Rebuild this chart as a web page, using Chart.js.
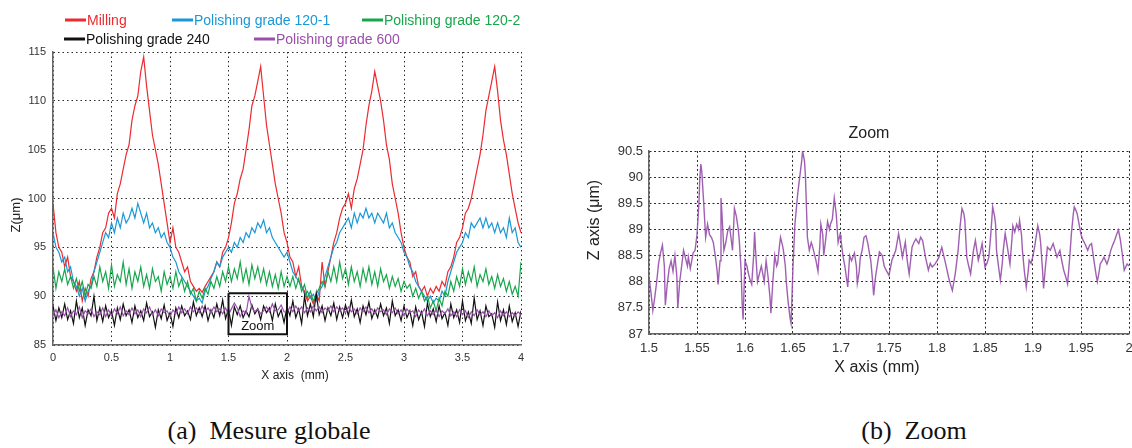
<!DOCTYPE html>
<html lang="fr">
<head>
<meta charset="UTF-8">
<title>Mesure globale / Zoom</title>
<script src="https://cdn.jsdelivr.net/npm/chart.js"></script>
<style>
  body { margin: 0; width: 1132px; height: 448px; overflow: hidden; background: #fff; position: relative; }
  canvas { position: absolute; }
  #chartA { left: 0; top: 0; }
  #chartB { left: 560px; top: 100px; }
  .cap { position: absolute; font-family: "Liberation Serif", "Times New Roman", serif; font-size: 26px;
         line-height: 30px; white-space: pre; transform: translateX(-50%); color: #111; }
</style>
</head>
<body>
<canvas id="chartA" width="540" height="400"></canvas>
<canvas id="chartB" width="572" height="300"></canvas>
<div class="cap" style="left:269px; top:416px;">(a)  Mesure globale</div>
<div class="cap" style="left:914px; top:416px;">(b)  Zoom</div>
<script>
// ---- data ----
// left panel: profiles sampled every 0.025 mm from 0 to 4 mm
const xStart = 0, xStep = 0.025;
const seriesNames = ['Milling', 'Polishing grade 120-1', 'Polishing grade 120-2', 'Polishing grade 240', 'Polishing grade 600'];

const milling = [
  99.5,96.5,95.0,94.5,93.0,94.0,92.0,91.5,90.5,91.5,
  89.5,90.8,90.0,91.8,92.5,94.0,95.0,96.5,97.0,98.5,
  99.0,98.0,100.5,101.5,103.0,104.5,105.5,108.0,109.5,110.5,
  113.0,114.5,111.5,109.0,106.5,105.0,103.5,101.5,99.5,97.5,
  95.5,97.0,95.0,94.5,93.5,92.5,93.0,91.5,91.0,90.5,
  90.8,90.4,91.0,91.5,92.0,92.5,93.5,93.0,94.5,95.0,
  96.0,97.5,99.5,100.5,102.0,103.0,105.0,107.0,109.5,110.5,
  112.0,113.5,110.5,107.5,105.5,103.5,101.5,100.0,98.5,96.5,
  95.5,94.0,93.5,92.0,93.0,91.0,90.5,89.5,90.0,89.2,
  90.2,89.5,93.5,91.0,92.5,94.0,95.5,96.5,98.0,99.0,
  99.5,100.5,99.0,101.0,102.0,103.5,105.0,107.5,109.5,111.0,
  113.0,111.5,110.0,108.0,105.5,104.0,101.5,100.0,98.5,96.5,
  95.0,94.0,93.5,92.0,92.5,91.0,90.5,91.0,90.0,90.8,
  90.3,91.0,90.5,91.5,91.0,92.5,93.0,94.0,95.5,96.0,
  97.0,98.5,99.0,100.0,101.5,103.0,104.5,106.5,109.0,110.5,
  112.0,113.5,111.0,108.0,106.0,104.5,102.5,100.5,99.0,97.5,
  96.5
];
const grade120a = [
  96.5,95.0,94.5,93.5,94.0,92.5,93.0,91.5,91.0,90.0,
  90.8,89.5,90.5,91.0,92.5,93.5,94.5,95.5,96.5,96.0,
  97.5,96.5,98.0,97.0,98.5,97.5,98.0,99.0,98.0,99.5,
  98.5,97.5,98.5,97.0,97.5,96.5,97.0,96.0,96.5,95.5,
  95.0,94.0,93.5,92.5,92.0,91.5,91.0,90.5,90.0,89.5,
  89.8,89.3,90.5,91.0,91.8,92.5,93.5,93.0,94.0,94.5,
  95.0,94.5,95.5,95.0,96.0,95.5,96.5,96.0,97.0,96.5,
  97.5,97.0,97.8,96.5,97.0,96.0,95.5,95.0,94.5,94.0,
  94.5,93.5,92.5,92.0,91.5,91.0,90.2,90.5,89.8,90.2,
  89.5,90.5,91.0,92.0,93.0,94.0,95.0,95.5,96.5,97.0,
  97.5,98.0,97.0,98.5,97.5,98.5,98.0,99.0,98.0,98.5,
  97.5,98.5,98.0,97.5,98.5,97.0,97.5,96.5,96.0,95.5,
  94.5,94.0,93.0,92.5,91.5,91.0,90.5,90.0,89.5,90.0,
  89.3,89.8,89.5,90.5,90.0,91.5,92.5,93.5,94.5,95.0,
  95.5,96.5,96.0,97.5,97.0,97.5,98.0,97.0,98.0,97.0,
  97.5,96.5,97.5,96.5,97.0,96.0,98.0,96.5,97.0,95.5,
  95.0
];
const grade120b = [
  93.0,90.8,92.5,91.5,92.8,91.2,92.0,90.8,91.8,90.5,
  91.5,90.0,91.2,90.8,92.0,91.0,93.0,91.5,92.5,90.8,
  93.2,91.0,92.2,91.5,93.5,91.2,92.8,90.8,92.5,91.5,
  93.0,91.0,92.2,90.8,92.8,91.5,92.0,90.5,92.5,91.2,
  92.0,90.8,92.5,91.0,91.8,90.5,91.5,90.2,90.8,89.5,
  90.5,89.8,90.8,90.2,91.5,90.8,92.0,91.0,92.5,91.5,
  93.0,91.5,92.8,91.8,93.5,91.5,92.8,91.2,93.2,91.8,
  93.0,91.5,92.8,91.2,92.5,91.0,92.2,90.8,92.5,91.0,
  92.0,91.0,92.0,90.8,91.8,90.5,91.2,89.8,90.5,89.5,
  90.2,90.8,91.5,91.0,92.5,91.5,93.0,91.5,93.5,91.8,
  92.8,91.2,93.0,91.5,92.5,91.0,92.8,91.5,93.0,91.2,
  92.5,91.0,92.8,91.5,92.2,90.8,92.0,91.0,91.8,90.5,
  91.5,90.8,91.2,90.0,90.8,89.8,90.5,89.5,90.0,88.8,
  89.5,88.5,89.8,89.0,90.5,90.0,91.5,90.5,92.0,91.0,
  92.8,91.2,92.5,91.5,93.0,91.0,92.2,91.5,92.8,91.2,
  92.0,90.8,92.2,91.0,91.8,90.5,91.5,90.2,91.0,90.0,
  93.5
];
const grade240 = [
  89.0,87.5,88.8,87.8,89.2,87.6,88.5,87.2,89.5,87.8,
  88.8,87.0,88.6,88.0,90.0,87.5,88.8,87.4,89.0,87.8,
  88.5,87.0,88.8,87.6,89.2,88.0,88.6,87.3,89.0,87.8,
  88.5,87.5,89.3,87.9,88.4,86.8,88.6,87.7,89.1,87.5,
  88.3,86.9,88.8,87.8,89.0,88.0,88.5,87.6,89.4,88.0,
  88.8,87.9,89.0,87.5,88.6,87.8,89.2,88.0,89.6,87.7,
  88.7,87.0,88.9,88.1,89.0,87.8,88.5,87.9,89.1,88.2,
  88.7,87.6,89.0,88.3,88.8,87.5,89.2,87.9,88.6,87.3,
  88.9,88.0,89.5,87.8,88.7,87.2,90.0,88.0,89.2,87.9,
  90.3,88.1,89.0,87.5,88.8,88.0,89.3,87.6,88.9,87.8,
  89.1,88.0,89.6,87.9,88.7,87.3,89.0,88.1,89.4,87.7,
  88.6,87.8,89.2,88.0,88.8,87.2,89.5,88.0,88.6,87.5,
  89.0,87.8,88.5,87.0,88.9,87.6,88.4,86.9,89.3,87.9,
  88.7,87.4,89.0,87.7,88.3,87.0,89.2,87.8,88.6,87.3,
  89.5,87.5,88.4,87.2,89.8,87.6,88.5,87.0,89.0,87.9,
  88.2,86.8,89.4,87.5,88.6,87.1,89.0,87.4,88.3,86.9,
  88.5
];
const grade600 = [
  88.0,88.6,87.8,88.4,88.0,88.8,87.9,88.5,88.1,88.9,
  87.8,88.5,88.2,88.7,87.9,88.4,88.1,88.8,87.9,88.6,
  88.0,88.7,88.2,88.9,88.0,88.5,88.1,88.8,88.2,88.6,
  87.9,88.7,88.3,88.9,88.1,88.6,88.0,88.7,88.3,88.5,
  87.9,88.6,88.2,88.9,88.3,88.7,88.2,88.9,88.4,88.8,
  88.3,89.0,88.4,88.8,88.3,88.9,88.4,88.7,88.2,88.8,
  88.1,88.7,89.3,88.8,87.9,88.5,88.2,90.0,88.8,88.4,
  88.7,88.2,88.5,88.9,88.4,89.2,88.5,88.6,89.1,88.4,
  88.3,88.9,88.4,89.0,88.5,88.9,88.3,88.8,88.4,89.0,
  88.5,88.9,88.3,88.8,88.5,89.0,88.4,88.9,88.5,88.8,
  88.3,88.9,88.4,88.7,88.2,88.8,88.4,88.9,88.3,88.7,
  88.2,88.8,88.4,88.6,88.1,88.7,88.3,88.8,88.2,88.6,
  88.0,88.7,88.3,88.5,87.9,88.6,88.2,88.7,88.0,88.5,
  88.1,88.6,87.9,88.5,88.2,88.7,88.0,88.4,87.9,88.6,
  88.1,88.5,87.8,88.4,88.0,88.6,88.1,88.4,87.9,88.5,
  88.0,88.3,87.8,88.5,88.0,88.4,87.9,88.3,88.0,88.4,
  88.1
];
// the zoomed window marked on the left panel
const zoomBoxX = [1.5, 2.0, 2.0, 1.5, 1.5];
const zoomBoxZ = [90.3, 90.3, 86.1, 86.1, 90.3];

// right panel: grade 600 profile between 1.5 and 2 mm
const zoomX = [
  1.500,1.502,1.504,1.506,1.508,1.510,1.512,1.514,1.516,1.517,
  1.519,1.521,1.523,1.525,1.527,1.529,1.530,1.532,1.534,1.536,
  1.538,1.540,1.541,1.543,1.544,1.546,1.548,1.550,1.552,1.553,
  1.554,1.555,1.557,1.559,1.561,1.563,1.565,1.567,1.569,1.571,
  1.572,1.574,1.575,1.576,1.578,1.580,1.582,1.584,1.586,1.587,
  1.589,1.591,1.593,1.594,1.596,1.597,1.598,1.600,1.602,1.603,
  1.605,1.607,1.609,1.610,1.611,1.613,1.615,1.617,1.619,1.620,
  1.622,1.624,1.626,1.627,1.629,1.631,1.633,1.634,1.636,1.637,
  1.639,1.640,1.642,1.643,1.645,1.647,1.648,1.650,1.652,1.654,
  1.655,1.657,1.659,1.660,1.662,1.663,1.665,1.667,1.669,1.670,
  1.672,1.674,1.676,1.678,1.679,1.681,1.682,1.684,1.686,1.688,
  1.689,1.691,1.693,1.695,1.697,1.699,1.700,1.702,1.704,1.707,
  1.709,1.711,1.714,1.716,1.717,1.719,1.720,1.722,1.724,1.726,
  1.728,1.730,1.731,1.733,1.734,1.736,1.738,1.740,1.743,1.745,
  1.747,1.750,1.753,1.755,1.757,1.760,1.762,1.764,1.767,1.769,
  1.771,1.774,1.776,1.778,1.781,1.783,1.785,1.788,1.791,1.793,
  1.795,1.798,1.800,1.802,1.805,1.807,1.809,1.812,1.814,1.816,
  1.819,1.822,1.824,1.826,1.828,1.829,1.831,1.833,1.835,1.838,
  1.840,1.843,1.845,1.847,1.850,1.852,1.854,1.856,1.858,1.860,
  1.861,1.862,1.864,1.866,1.868,1.869,1.871,1.873,1.876,1.878,
  1.879,1.881,1.883,1.885,1.886,1.888,1.889,1.891,1.893,1.895,
  1.896,1.898,1.900,1.902,1.905,1.907,1.908,1.910,1.911,1.913,
  1.915,1.918,1.921,1.923,1.925,1.928,1.930,1.932,1.934,1.936,
  1.938,1.940,1.942,1.943,1.945,1.946,1.948,1.950,1.952,1.954,
  1.957,1.959,1.961,1.964,1.966,1.967,1.969,1.970,1.972,1.974,
  1.977,1.979,1.981,1.983,1.985,1.987,1.989,1.991,1.993,1.995,
  1.998,2.000
];
const zoomZ = [
  88.10,87.80,87.45,87.70,88.00,88.35,88.55,88.70,88.30,87.55,
  87.95,88.25,88.40,88.20,88.50,88.10,87.50,88.00,88.30,88.60,
  88.45,88.30,88.47,88.25,88.35,88.55,88.60,88.90,89.50,90.00,
  90.25,90.10,89.50,88.85,89.10,88.90,88.85,88.75,88.50,88.20,
  87.95,88.40,89.60,89.30,88.60,88.75,88.97,89.05,88.75,88.60,
  89.40,89.25,89.00,88.80,88.20,87.60,87.28,88.40,88.30,88.20,
  88.05,87.95,88.50,88.95,88.60,88.00,88.15,88.30,88.10,88.00,
  88.40,88.10,87.70,87.40,88.00,88.50,88.30,88.35,88.70,88.85,
  88.70,88.60,88.30,88.00,87.60,87.30,87.20,88.30,89.10,89.50,
  89.70,90.00,90.30,90.50,90.30,90.00,88.85,88.60,88.75,88.70,
  88.55,88.40,88.20,88.70,89.10,88.90,88.50,88.80,89.15,89.00,
  89.10,89.20,89.60,89.30,88.75,88.90,88.80,88.50,88.30,87.90,
  88.50,88.40,88.55,88.30,87.97,88.20,88.45,88.60,88.85,88.88,
  88.73,88.50,88.41,88.00,87.74,88.10,88.34,88.57,88.50,88.30,
  88.22,88.12,88.41,88.50,88.60,88.92,88.70,88.47,88.76,88.40,
  88.15,88.66,88.75,88.82,88.73,88.85,88.79,88.47,88.22,88.35,
  88.28,88.34,88.40,88.47,88.66,88.50,88.34,88.09,87.95,87.83,
  88.15,88.60,89.05,89.40,89.30,89.17,88.47,88.30,88.15,88.60,
  88.79,88.41,88.55,88.73,88.28,88.35,88.47,88.90,89.43,89.25,
  89.10,88.60,88.30,88.03,88.35,88.60,88.92,88.70,88.34,88.80,
  89.07,88.95,89.10,89.00,89.17,88.90,88.60,88.20,87.90,88.20,
  88.41,88.35,88.50,88.70,89.07,88.90,88.73,88.20,87.87,88.30,
  88.66,88.60,88.73,88.60,88.47,88.60,88.40,88.22,88.10,87.96,
  88.40,88.92,89.30,89.43,89.35,89.30,89.10,88.90,88.80,88.73,
  88.60,88.70,88.73,88.34,88.10,88.00,88.20,88.34,88.40,88.47,
  88.34,88.45,88.60,88.70,88.79,88.90,88.99,88.80,88.53,88.22,
  88.34,88.30
];

// ---- helpers ----
const SANS = '"Liberation Sans", Arial, Helvetica, sans-serif';
Chart.defaults.font.family = SANS;
Chart.defaults.color = '#333';

function profile(values) {
  return values.map((v, i) => ({ x: +(xStart + i * xStep).toFixed(3), y: v }));
}
function pairs(xs, ys) {
  const n = Math.min(xs.length, ys.length);
  const out = [];
  for (let i = 0; i < n; i++) out.push({ x: xs[i], y: ys[i] });
  return out;
}
function fmt(v) { return String(+(+v).toFixed(2)); }

// free text drawn on a chart: pixel position (x,y) or data position (vx,vy)
function textLayer(items) {
  return {
    id: 'textLayer',
    afterDraw(chart) {
      const ctx = chart.ctx;
      items.forEach(t => {
        const px = t.vx !== undefined ? chart.scales.x.getPixelForValue(t.vx) : t.x;
        const py = t.vy !== undefined ? chart.scales.y.getPixelForValue(t.vy) : t.y;
        ctx.save();
        ctx.font = t.font;
        ctx.fillStyle = t.color || '#222';
        ctx.textAlign = 'center';
        ctx.textBaseline = 'middle';
        ctx.translate(px, py);
        if (t.rotate) ctx.rotate(t.rotate);
        ctx.fillText(t.text, 0, 0);
        ctx.restore();
      });
    }
  };
}

// two-row key above the left panel
const keySpots = [[65, 20], [172, 20], [362, 20], [64, 39], [254, 39]];
const keyPlugin = {
  id: 'keyRows',
  afterDraw(chart) {
    const ctx = chart.ctx;
    keySpots.forEach((p, i) => {
      const ds = chart.data.datasets[i];
      ctx.save();
      ctx.strokeStyle = ds.borderColor;
      ctx.lineWidth = 3;
      ctx.beginPath();
      ctx.moveTo(p[0], p[1]);
      ctx.lineTo(p[0] + 21, p[1]);
      ctx.stroke();
      ctx.fillStyle = ds.borderColor;
      ctx.font = '14px ' + SANS;
      ctx.textBaseline = 'middle';
      ctx.fillText(ds.label, p[0] + 22, p[1] + 1);
      ctx.restore();
    });
  }
};

const colors = ['#ec2a30', '#1a98d5', '#17a64c', '#111111', '#9a4fab'];
const layers = [5, 4, 3, 2, 1];
const gridStyle = { color: '#2a2a2a', lineWidth: 1, drawTicks: false };
const borderStyle = { color: '#666', width: 1.5, dash: [1.5, 3] };

// ---- left panel ----
const leftSets = [milling, grade120a, grade120b, grade240, grade600].map((vals, i) => ({
  label: seriesNames[i],
  data: profile(vals),
  borderColor: colors[i],
  borderWidth: 1.2,
  pointRadius: 0,
  tension: 0,
  order: layers[i]
}));
leftSets.push({
  label: 'zoom window',
  data: pairs(zoomBoxX, zoomBoxZ),
  borderColor: '#111',
  borderWidth: 2,
  pointRadius: 0,
  tension: 0,
  order: 0
});

new Chart(document.getElementById('chartA'), {
  type: 'line',
  data: { datasets: leftSets },
  options: {
    responsive: false,
    animation: false,
    events: [],
    layout: { padding: { left: 0, right: 19, top: 52, bottom: 0 } },
    plugins: { legend: { display: false }, tooltip: { enabled: false } },
    scales: {
      x: {
        type: 'linear', min: 0, max: 4,
        ticks: { stepSize: 0.5, padding: 6, font: { size: 11 }, color: '#333', maxRotation: 0, autoSkip: false, callback: fmt },
        grid: gridStyle,
        border: borderStyle,
        afterFit: s => { s.height = 55; s.paddingLeft = 0; s.paddingRight = 0; }
      },
      y: {
        type: 'linear', min: 85, max: 115,
        ticks: { stepSize: 5, padding: 7, font: { size: 11 }, color: '#333', callback: fmt },
        grid: gridStyle,
        border: borderStyle,
        afterFit: s => { s.width = 53; s.paddingTop = 0; s.paddingBottom = 0; }
      }
    }
  },
  plugins: [keyPlugin, textLayer([
    { text: 'Z(\u03bcm)', x: 16, y: 215, font: '13px ' + SANS, rotate: -Math.PI / 2 },
    { text: 'X axis  (mm)', x: 295, y: 376, font: '12px ' + SANS },
    { text: 'Zoom', vx: 1.75, vy: 86.9, font: '13px ' + SANS, color: '#111' }
  ])]
});

// ---- right panel ----
new Chart(document.getElementById('chartB'), {
  type: 'line',
  data: {
    datasets: [{
      label: 'Polishing grade 600 (zoom)',
      data: pairs(zoomX, zoomZ),
      borderColor: 'rgba(150,78,170,0.9)',
      borderWidth: 1.4,
      pointRadius: 0,
      tension: 0
    }]
  },
  options: {
    responsive: false,
    animation: false,
    events: [],
    layout: { padding: { left: 0, right: 3, top: 51, bottom: 0 } },
    plugins: { legend: { display: false }, tooltip: { enabled: false } },
    scales: {
      x: {
        type: 'linear', min: 1.5, max: 2,
        ticks: { stepSize: 0.05, padding: 7, font: { size: 13 }, color: '#333', maxRotation: 0, autoSkip: false, callback: fmt },
        grid: gridStyle,
        border: { color: '#666', width: 1.5, dash: [2, 2.5] },
        afterFit: s => { s.height = 66; s.paddingLeft = 0; s.paddingRight = 0; }
      },
      y: {
        type: 'linear', min: 87, max: 90.5,
        ticks: { stepSize: 0.5, padding: 6, font: { size: 13 }, color: '#333', callback: fmt },
        grid: gridStyle,
        border: { color: '#666', width: 1.5, dash: [2, 2.5] },
        afterFit: s => { s.width = 89; s.paddingTop = 0; s.paddingBottom = 0; }
      }
    }
  },
  plugins: [textLayer([
    { text: 'Zoom', x: 309, y: 34, font: '16px ' + SANS },
    { text: 'Z axis (\u03bcm)', x: 35, y: 120, font: '16px ' + SANS, rotate: -Math.PI / 2 },
    { text: 'X axis (mm)', x: 317, y: 268, font: '16px ' + SANS }
  ])]
});
</script>
</body>
</html>
